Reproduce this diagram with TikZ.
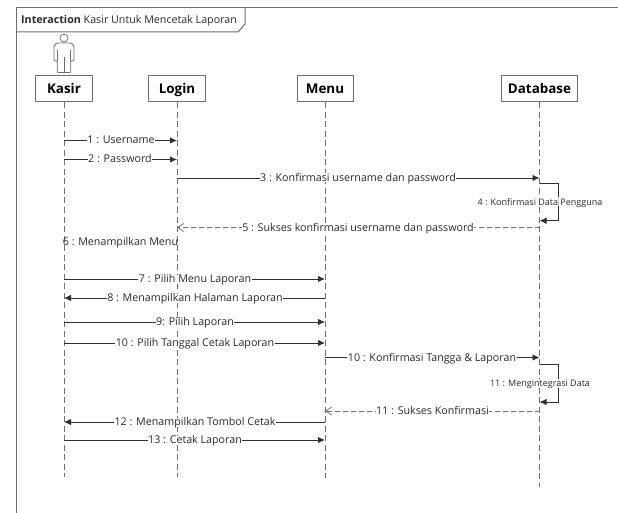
\documentclass[tikz,border=0pt]{standalone}
\usepackage{fontspec}
\setmainfont{Open Sans}
\usetikzlibrary{arrows.meta,calc}
\definecolor{framec}{HTML}{6E6E6E}
\definecolor{linec}{HTML}{303030}
\definecolor{lifec}{HTML}{707070}
\definecolor{textc}{HTML}{2A2A2A}
\tikzset{
 lifebox/.style={draw=framec,line width=1pt,minimum height=26pt,inner sep=0pt,text height=.9em,text depth=0pt,font=\fontsize{13.4}{15}\selectfont\bfseries,text=black},
 lifeline/.style={draw=lifec,line width=.9pt,dash pattern=on 6pt off 3.5pt},
 syncmsg/.style={draw=linec,line width=.8pt,-{Latex[length=7pt,width=6.5pt]}},
 retmsg/.style={draw=lifec,line width=.8pt,dash pattern=on 5pt off 3pt,-{Straight Barb[length=6pt,width=8pt]}},
 msglabel/.style={fill=white,inner xsep=.6pt,inner ysep=1pt,text height=.7em,text depth=0pt,text=textc,font=\fontsize{10.7}{12}\selectfont},
 freelabel/.style={inner xsep=.6pt,inner ysep=1pt,text height=.7em,text depth=0pt,text=textc,font=\fontsize{10.7}{12}\selectfont},
 smalllabel/.style={fill=white,fill opacity=.8,text opacity=1,inner xsep=.6pt,inner ysep=1pt,text height=.7em,text depth=0pt,text=textc,font=\fontsize{9}{10}\selectfont}
}
\begin{document}
\begin{tikzpicture}[x=1pt,y=-1pt]
\useasboundingbox (0,0) rectangle (618,513);
% frame
\draw[framec,line width=1pt] (618,8) -- (16.5,8) -- (16.5,513);
\draw[framec,line width=1pt] (16.5,32) -- (238,32) -- (245,24) -- (245,8);
\node[anchor=west,inner sep=0pt,text=textc,font=\fontsize{10.7}{12}\selectfont] (title) at (21,21) {\textbf{Interaction} Kasir Untuk Mencetak Laporan};
% actor
\draw[framec,line width=.8pt] (64,38) circle (4);
\draw[framec,line width=.8pt,rounded corners=1pt,fill=white] (57,43) -- (71,43) -- (74,46) -- (74,61) -- (70.7,61) -- (70.7,72.5) -- (57.3,72.5) -- (57.3,61) -- (54,61) -- (54,46) -- cycle;
\draw[framec,line width=.8pt] (57.3,50) -- (57.3,61) (70.7,50) -- (70.7,61) (64,57) -- (64,72.5);
% lifelines
\node[lifebox,minimum width=57pt] (kasir) at (64,89) {Kasir};
\node[lifebox,minimum width=57pt] (login) at (177,89) {Login};
\node[lifebox,minimum width=56pt] (menu) at (325,89) {Menu};
\node[lifebox,minimum width=76pt] (db) at (539.5,89) {Database};
\coordinate (kasirend) at (64,477);
\coordinate (loginend) at (177,477);
\coordinate (menuend) at (325,478);
\coordinate (dbend) at (539.5,487);
\draw[lifeline] (kasir.south) -- (kasirend);
\draw[lifeline] (login.south) -- (loginend);
\draw[lifeline] (menu.south) -- (menuend);
\draw[lifeline] (db.south) -- (dbend);
% messages
\draw[syncmsg] (kasir.south |- 0,140.5) -- (login.south |- 0,140.5);
\node[msglabel] (m1) at (121,140.5) {1 : Username};
\draw[syncmsg] (kasir.south |- 0,159.5) -- (login.south |- 0,159.5);
\node[msglabel] (m2) at (120,159.5) {2 : Password};
\draw[syncmsg] (login.south |- 0,178) -- (db.south |- 0,178);
\node[msglabel] (m3) at (358,178) {3 : Konfirmasi username dan password};
\draw[syncmsg] (db.south |- 0,183) -- (558.7,183) -- (558.7,220.7) -- (db.south |- 0,220.7);
\node[smalllabel] (m4) at (540,201.7) {4 : Konfirmasi Data Pengguna};
\draw[retmsg] (db.south |- 0,227.5) -- (login.south |- 0,227.5);
\node[msglabel] (m5) at (358,227.5) {5 : Sukses konfirmasi username dan password};
\node[freelabel] (m6) at (120.5,241.5) {6 : Menampilkan Menu};
\draw[syncmsg] (kasir.south |- 0,279) -- (menu.south |- 0,279);
\node[msglabel] (m7) at (195,279) {7 : Pilih Menu Laporan};
\draw[syncmsg] (menu.south |- 0,298) -- (kasir.south |- 0,298);
\node[msglabel] (m8) at (195,298) {8 : Menampilkan Halaman Laporan};
\draw[syncmsg] (kasir.south |- 0,322) -- (menu.south |- 0,322);
\node[msglabel] (m9) at (195,322) {9: Pilih Laporan};
\draw[syncmsg] (kasir.south |- 0,343) -- (menu.south |- 0,343);
\node[msglabel] (m10) at (195,343) {10 : Pilih Tanggal Cetak Laporan};
\draw[syncmsg] (menu.south |- 0,357.5) -- (db.south |- 0,357.5);
\node[msglabel] (m10b) at (432,357.5) {10 : Konfirmasi Tangga \& Laporan};
\draw[syncmsg] (db.south |- 0,364) -- (558.7,364) -- (558.7,402) -- (db.south |- 0,402);
\node[smalllabel] (m11a) at (540,383) {11 : Mengintegrasi Data};
\draw[retmsg] (db.south |- 0,411) -- (menu.south |- 0,411);
\node[msglabel] (m11b) at (432.5,411) {11 : Sukses Konfirmasi};
\draw[syncmsg] (menu.south |- 0,422) -- (kasir.south |- 0,422);
\node[msglabel] (m12) at (195,422) {12 : Menampilkan Tombol Cetak};
\draw[syncmsg] (kasir.south |- 0,440) -- (menu.south |- 0,440);
\node[msglabel] (m13) at (195,440) {13 : Cetak Laporan};
\end{tikzpicture}
\end{document}
